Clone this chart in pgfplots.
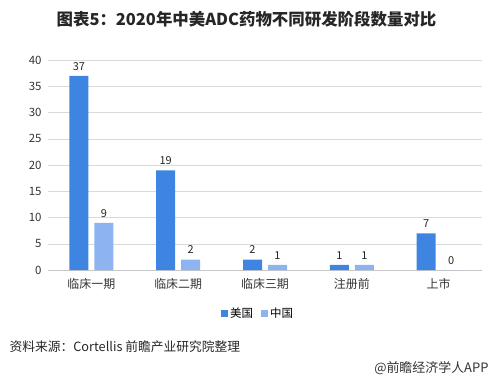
\documentclass[border=0pt]{standalone}
\usepackage{pgfplots}
\pgfplotsset{compat=1.18}
\usepackage{fontspec}
\setmainfont{Noto Sans CJK SC}
\definecolor{usblue}{RGB}{61,133,224}
\definecolor{cnblue}{RGB}{141,180,240}
\definecolor{gridc}{RGB}{217,217,217}
\begin{document}
\begin{tikzpicture}[x=1bp,y=1bp]
\path[use as bounding box] (0,0) rectangle (493,381);
\node[font=\bfseries\fontsize{16.5}{18}\selectfont, text=black!85] at (246.5,362) {图表5：2020年中美ADC药物不同研发阶段数量对比};
\begin{axis}[
  at={(48bp,111bp)}, anchor=south west,
  scale only axis, width=434bp, height=210bp,
  ybar=6bp, bar width=19bp,
  xmin=-0.5, xmax=4.5, ymin=0, ymax=40,
  ytick={0,5,...,40},
  xtick=data,
  xticklabels={临床一期,临床二期,临床三期,注册前,上市},
  axis x line*=bottom, axis y line*=left,
  y axis line style={draw=none},
  x axis line style={draw=gridc!80!gray},
  ymajorgrids, grid style={gridc},
  major tick length=0pt,
  tick label style={text=black!80},
  yticklabel style={font=\fontsize{11.5}{12}\selectfont, xshift=-3bp},
  xticklabel style={font=\fontsize{12}{13}\selectfont, yshift=-5bp},
  /pgf/number format/assume math mode=true,
  nodes near coords,
  every node near coord/.append style={font=\fontsize{11}{11}\selectfont, text=black!85, yshift=2bp},
  legend style={at={(0.484,-0.205)}, anchor=center, draw=none, legend columns=2,
    font=\fontsize{11.5}{12}\selectfont, /tikz/every even column/.append style={column sep=6bp}},
  legend image code/.code={\fill[#1] (0bp,-3.5bp) rectangle (7bp,3.5bp);},
]
\addplot[fill=usblue, draw=none] coordinates {(0,37) (1,19) (2,2) (3,1) (4,7)};
\addplot[fill=cnblue, draw=none] coordinates {(0,9) (1,2) (2,1) (3,1) (4,0)};
\legend{美国,中国}
\end{axis}
\node[anchor=west, font=\fontsize{12.8}{14}\selectfont, text=black!85] at (6,34) {资料来源：Cortellis 前瞻产业研究院整理};
\node[anchor=east, font=\fontsize{13}{14}\selectfont, text=black!80] at (492,13) {@前瞻经济学人APP};
\end{tikzpicture}
\end{document}
